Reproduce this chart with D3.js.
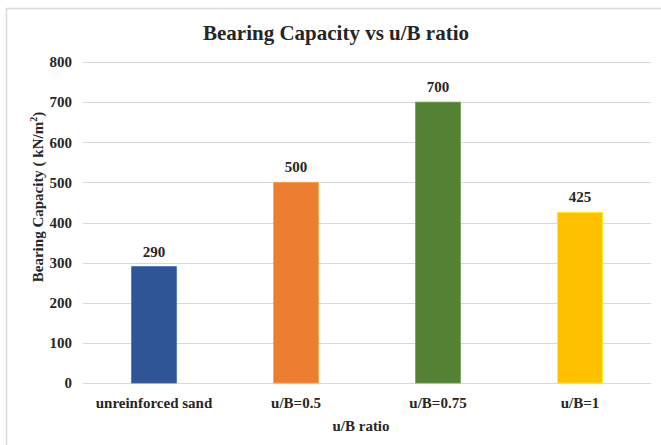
<!DOCTYPE html>
<html>
<head>
<meta charset="utf-8">
<script src="https://cdn.jsdelivr.net/npm/d3@7"></script>
<style>
  html, body { margin: 0; padding: 0; background: #fff; }
  svg { display: block; }
</style>
</head>
<body>
<script>
// Bearing capacity for each reinforcement configuration
const categories = ["unreinforced sand", "u/B=0.5", "u/B=0.75", "u/B=1"];
const capacities = [290, 500, 700, 425];
const barColors = ["#2F5597", "#ED7D31", "#548235", "#FFC000"];
const yTicks = [0, 100, 200, 300, 400, 500, 600, 700, 800];

const FONT = "Liberation Serif";
const INK = "#262626";
const W = 661, H = 445;
const plotLeft = 83, plotRight = 651, plotTop = 62, plotBottom = 383;

const svg = d3.select("body").append("svg").attr("width", W).attr("height", H)
  .attr("font-family", FONT).attr("font-weight", "bold");

// chart frame
svg.append("rect")
  .attr("x", 6.5).attr("y", 8.5)
  .attr("width", 670).attr("height", 450)
  .attr("fill", "#fff").attr("stroke", "#D9D9D9").attr("stroke-width", 1.5);

const x = d3.scaleBand().domain(categories).range([plotLeft, plotRight])
  .paddingInner(0.685).paddingOuter(0.3425);
const y = d3.scaleLinear().domain([0, 800]).range([plotBottom, plotTop]);

// horizontal gridlines
svg.append("g").selectAll("line").data(yTicks).join("line")
  .attr("x1", plotLeft).attr("x2", plotRight)
  .attr("y1", d => Math.round(y(d)) + 0.5).attr("y2", d => Math.round(y(d)) + 0.5)
  .attr("stroke", "#D9D9D9").attr("stroke-width", 1.2);

// y axis tick labels
const gy = svg.append("g").attr("transform", `translate(${plotLeft},0)`)
  .call(d3.axisLeft(y).tickValues(yTicks).tickSize(0).tickPadding(11));
gy.attr("font-family", FONT).attr("font-size", 15);
gy.select(".domain").remove();
gy.selectAll("text").attr("fill", INK).attr("font-weight", "bold");

// bars
svg.append("g").selectAll("rect").data(categories).join("rect")
  .attr("x", d => x(d))
  .attr("y", (d, i) => y(capacities[i]))
  .attr("width", x.bandwidth())
  .attr("height", (d, i) => y(0) - y(capacities[i]))
  .attr("fill", (d, i) => barColors[i])
  .attr("stroke", (d, i) => d3.color(barColors[i]).brighter(0.6))
  .attr("stroke-width", 0.8);

// value labels
svg.append("g").selectAll("text").data(categories).join("text")
  .attr("x", d => x(d) + x.bandwidth() / 2)
  .attr("y", (d, i) => y(capacities[i]) - 10)
  .attr("text-anchor", "middle")
  .attr("font-size", 15).attr("fill", INK)
  .text((d, i) => capacities[i]);

// x axis category labels
const gx = svg.append("g").attr("transform", `translate(0,${plotBottom})`)
  .call(d3.axisBottom(x).tickSize(0).tickPadding(14));
gx.attr("font-family", FONT).attr("font-size", 15);
gx.select(".domain").remove();
gx.selectAll("text").attr("fill", INK).attr("font-weight", "bold");

// chart title
svg.append("text")
  .attr("x", 336).attr("y", 40)
  .attr("text-anchor", "middle")
  .attr("font-size", 21).attr("fill", INK)
  .text("Bearing Capacity vs u/B ratio");

// x axis title
svg.append("text")
  .attr("x", 361).attr("y", 431)
  .attr("text-anchor", "middle")
  .attr("font-size", 15).attr("fill", INK)
  .text("u/B ratio");

// y axis title
const yt = svg.append("text")
  .attr("transform", "translate(43,197) rotate(-90)")
  .attr("text-anchor", "middle")
  .attr("font-size", 15).attr("fill", INK);
yt.append("tspan").text("Bearing Capacity (  kN/m");
yt.append("tspan").attr("dy", -6).attr("font-size", 10).text("2");
yt.append("tspan").attr("dy", 6).text(")");
</script>
</body>
</html>
